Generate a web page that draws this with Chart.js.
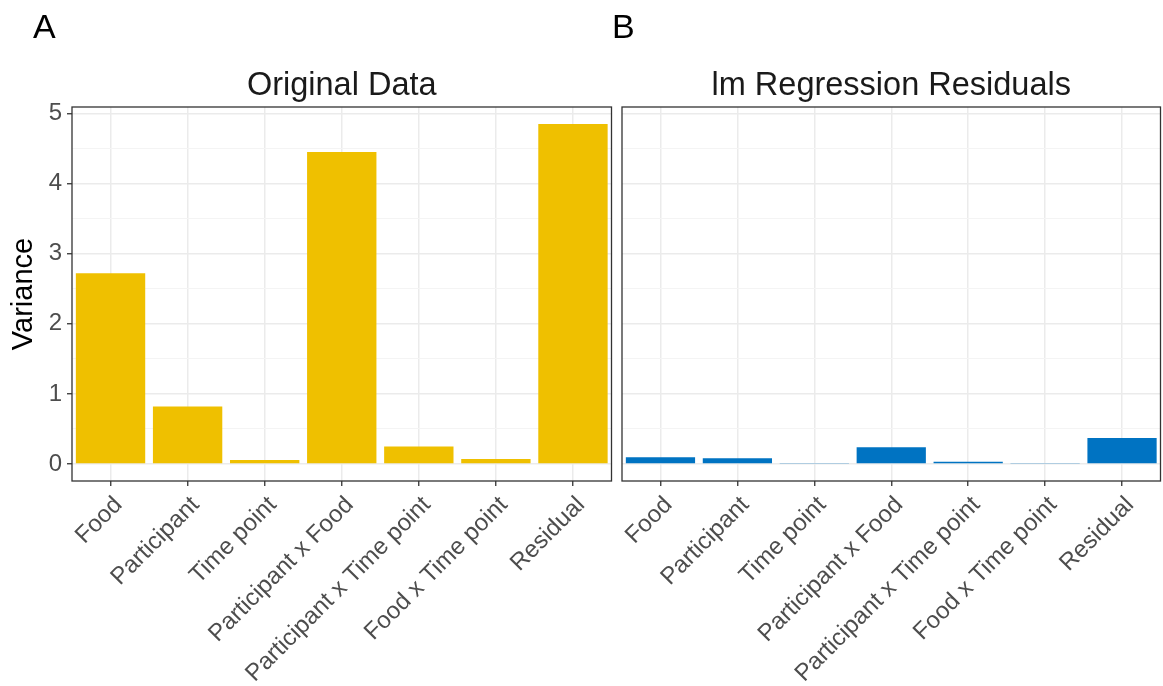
<!DOCTYPE html>
<html>
<head>
<meta charset="utf-8">
<script src="https://cdn.jsdelivr.net/npm/chart.js@4.4.1/dist/chart.umd.min.js"></script>
<style>
  html, body { margin: 0; padding: 0; background: #ffffff; }
  #wrap { position: relative; width: 1163px; height: 686px; overflow: hidden; background: #ffffff; }
  #wrap canvas { position: absolute; top: 0; }
</style>
</head>
<body>
<div id="wrap">
  <canvas id="panelA" width="614" height="686" style="left:0px;width:614px;height:686px"></canvas>
  <canvas id="panelB" width="557" height="686" style="left:606px;width:557px;height:686px"></canvas>
</div>
<script>
// Variance components, in the order they appear along the x axis
const categories = ['Food', 'Participant', 'Time point', 'Participant x Food',
                    'Participant x Time point', 'Food x Time point', 'Residual'];
const originalVariance = [2.72, 0.82, 0.057, 4.45, 0.25, 0.07, 4.85];
const residualVariance = [0.095, 0.081, 0.014, 0.238, 0.033, 0.014, 0.371];
const yTickValues = [0, 0.5, 1, 1.5, 2, 2.5, 3, 3.5, 4, 4.5, 5];
const panelTitles = ['Original Data', 'lm Regression Residuals'];
const panelTags = ['A', 'B'];
const yAxisTitle = 'Variance';

const FONT = "'Liberation Sans', Arial, Helvetica, sans-serif";
const TEXT_GREY = '#4d4d4d';
const FRAME = '#333333';

// Both panels share one y range: data max plus 5% padding on either side
const dataMax = Math.max(...originalVariance, ...residualVariance);
const Y_MIN = -0.05 * dataMax;
const Y_MAX = dataMax * 1.05;

const isMajor = v => Math.abs(v - Math.round(v)) < 1e-9;

// Frame, facet title and panel tag drawn around the plotting area
const panelDecor = {
  id: 'panelDecor',
  afterDraw(chart, args, opts) {
    const { ctx, chartArea: a } = chart;
    ctx.save();
    ctx.strokeStyle = FRAME;
    ctx.lineWidth = 1.3;
    ctx.strokeRect(a.left, a.top, a.right - a.left, a.bottom - a.top);

    ctx.fillStyle = '#1a1a1a';
    ctx.font = '32.5px ' + FONT;
    ctx.textAlign = 'center';
    ctx.textBaseline = 'alphabetic';
    ctx.fillText(opts.title, (a.left + a.right) / 2, 95);

    ctx.fillStyle = '#000000';
    ctx.font = '34px ' + FONT;
    ctx.textAlign = 'left';
    ctx.fillText(opts.tag, opts.tagX, 38);
    ctx.restore();
  }
};

function makePanel(canvasId, values, color, idx, showY) {
  const padLeft = showY ? 0 : 16;
  return new Chart(document.getElementById(canvasId), {
    type: 'bar',
    data: {
      labels: categories,
      datasets: [{
        data: values,
        backgroundColor: color,
        borderWidth: 0,
        barPercentage: 0.9,
        categoryPercentage: 1.0
      }]
    },
    plugins: [panelDecor],
    options: {
      responsive: false,
      animation: false,
      devicePixelRatio: 1,
      layout: { padding: { left: padLeft, top: 107, right: 2.5, bottom: 0 } },
      plugins: {
        legend: { display: false },
        tooltip: { enabled: false },
        title: { display: false },
        panelDecor: { title: panelTitles[idx], tag: panelTags[idx], tagX: showY ? 33 : 6 }
      },
      scales: {
        x: {
          type: 'category',
          offset: true,
          border: { display: false },
          grid: {
            offset: false,
            color: '#ebebeb',
            lineWidth: 1.5,
            drawTicks: true,
            tickLength: 5,
            tickColor: FRAME,
            tickWidth: 1.3
          },
          ticks: {
            autoSkip: false,
            minRotation: 45,
            maxRotation: 45,
            padding: 5,
            labelOffset: 8,
            color: TEXT_GREY,
            font: { family: FONT, size: 24 }
          },
          afterFit(scale) { scale.height = 686 - 481; }
        },
        y: {
          type: 'linear',
          min: Y_MIN,
          max: Y_MAX,
          border: { display: false },
          afterBuildTicks(scale) { scale.ticks = yTickValues.map(v => ({ value: v })); },
          grid: {
            color: c => (c.tick && isMajor(c.tick.value)) ? '#ebebeb' : '#f4f4f4',
            lineWidth: c => (c.tick && isMajor(c.tick.value)) ? 1.5 : 1,
            drawTicks: showY,
            tickLength: 5,
            tickWidth: 1.3,
            tickColor: c => (c.tick && isMajor(c.tick.value)) ? FRAME : 'rgba(0,0,0,0)'
          },
          ticks: {
            display: showY,
            padding: 5,
            color: TEXT_GREY,
            font: { family: FONT, size: 24 },
            callback: v => isMajor(v) ? String(Math.round(v)) : ''
          },
          title: {
            display: showY,
            text: yAxisTitle,
            color: '#000000',
            font: { family: FONT, size: 29 },
            padding: { top: 7, bottom: 4 }
          },
          afterFit(scale) { scale.width = showY ? 72 : 0; }
        }
      }
    }
  });
}

makePanel('panelA', originalVariance, '#EFC000', 0, true);
makePanel('panelB', residualVariance, '#0073C2', 1, false);
</script>
</body>
</html>
